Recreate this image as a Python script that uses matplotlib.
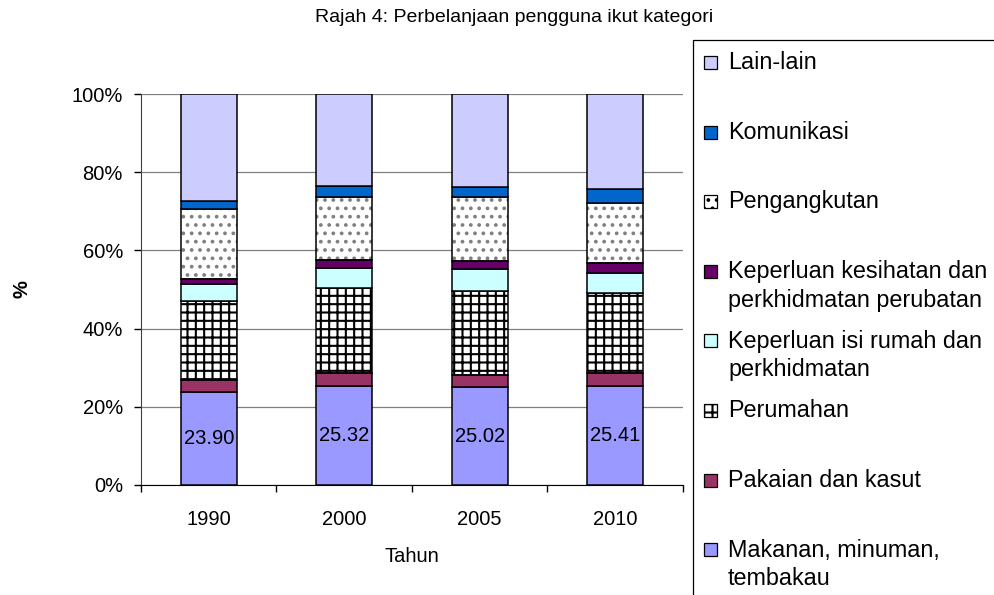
import numpy as np
import matplotlib.pyplot as plt
from matplotlib.patches import Rectangle

plt.rcParams['font.family'] = ['Liberation Sans', 'DejaVu Sans']
plt.rcParams['hatch.linewidth'] = 1.5

# data (share of spending, %), bottom to top of each stack
tahun = ['1990', '2000', '2005', '2010']
makanan = [23.90, 25.32, 25.02, 25.41]
pakaian = [3.0, 3.4, 3.2, 3.3]
perumahan = [20.2, 21.7, 21.3, 20.5]
isi_rumah = [4.3, 5.1, 5.8, 5.1]
kesihatan = [1.4, 2.2, 1.9, 2.4]
pengangkutan = [17.9, 16.1, 16.3, 15.5]
komunikasi = [2.0, 2.7, 2.7, 3.4]
lain_lain = [27.3, 23.7, 23.7, 24.4]

labels = ['Makanan, minuman,\ntembakau', 'Pakaian dan kasut', 'Perumahan',
          'Keperluan isi rumah dan\nperkhidmatan',
          'Keperluan kesihatan dan\nperkhidmatan perubatan',
          'Pengangkutan', 'Komunikasi', 'Lain-lain']
series = [makanan, pakaian, perumahan, isi_rumah, kesihatan,
          pengangkutan, komunikasi, lain_lain]
# (facecolor, hatch, hatch colour)
styles = [('#9999FF', None, None), ('#993366', None, None),
          ('white', '++', 'black'), ('#CCFFFF', None, None),
          ('#660066', None, None), ('white', '..', '#808080'),
          ('#0066CC', None, None), ('#CCCCFF', None, None)]

vals = np.array(series, dtype=float)
pct = vals / vals.sum(axis=0) * 100  # 100% stacked

fig = plt.figure(figsize=(9.95, 5.95), dpi=100)
ax = fig.add_axes([141/995, 1-485/595, 542/995, 391/595])

x = np.arange(len(tahun))
w = 0.41
bottom = np.zeros(len(tahun))
for k in range(len(series)):
    fc, hatch, hc = styles[k]
    if hatch is not None:
        ax.bar(x, pct[k], w, bottom=bottom, color=fc, hatch=hatch,
               edgecolor=hc, linewidth=0, zorder=2)
        b = ax.bar(x, pct[k], w, bottom=bottom, fill=False,
                   edgecolor='black', linewidth=1.1, zorder=3)
    else:
        b = ax.bar(x, pct[k], w, bottom=bottom, color=fc,
                   edgecolor='black', linewidth=1.1, zorder=3)
    if k == 0:
        ax.bar_label(b, labels=['%.2f' % v for v in makanan],
                     label_type='center', fontsize=14.5, zorder=4)
    bottom += pct[k]

ax.set_xlim(-0.5, len(tahun) - 0.5)
ax.set_ylim(0, 100)
ax.set_yticks(np.arange(0, 101, 20))
ax.set_yticklabels(['%d%%' % v for v in range(0, 101, 20)], fontsize=14.5)
ax.set_xticks(x)
ax.set_xticklabels(tahun, fontsize=14.5)
ax.set_xticks(np.arange(-0.5, len(tahun), 1), minor=True)
ax.tick_params(axis='x', which='major', length=0, pad=18)
ax.tick_params(axis='x', which='minor', length=5, width=1, direction='out')
ax.tick_params(axis='y', length=5, width=1, pad=8, direction='out')
ax.yaxis.grid(True, color='#808080', linewidth=0.9, zorder=0)
ax.set_axisbelow(True)
for s in ['top', 'right']:
    ax.spines[s].set_visible(False)
ax.spines['left'].set_color('#404040')
ax.spines['bottom'].set_color('black')

ax.set_xlabel('Tahun', fontsize=14.5)
ax.xaxis.set_label_coords(0.5, (485-556)/391)
ax.xaxis.label.set_verticalalignment('center')
ax.set_ylabel('%', fontsize=14.5, fontweight='bold')
ax.yaxis.set_label_coords((22-141)/542, 0.5)
ax.yaxis.label.set_verticalalignment('center')

fig.text(514/995, 1-18/595, 'Rajah 4: Perbelanjaan pengguna ikut kategori',
         fontsize=14, ha='center', va='center')

# legend box, running off the right and bottom edges
fig.add_artist(Rectangle((693/995, -0.1), 1, 1.1 - 40/595, fill=False,
                         edgecolor='black', linewidth=0.9,
                         transform=fig.transFigure))
for i, k in enumerate(range(len(series) - 1, -1, -1)):
    fc, hatch, hc = styles[k]
    yc = 61 + i * 69.6
    fig.add_artist(Rectangle((704/995, 1-(yc+8)/595), 13/995, 13/595,
                             facecolor=fc, hatch=hatch,
                             edgecolor='black', linewidth=0.9,
                             transform=fig.transFigure))
    nl = labels[k].count('\n')
    # baseline of the last line
    fig.text(728/995, 1-(yc+8+29*nl)/595, labels[k], fontsize=16.8,
             ha='left', va='baseline', linespacing=1.3)

fig.savefig('out.png', dpi=100)
